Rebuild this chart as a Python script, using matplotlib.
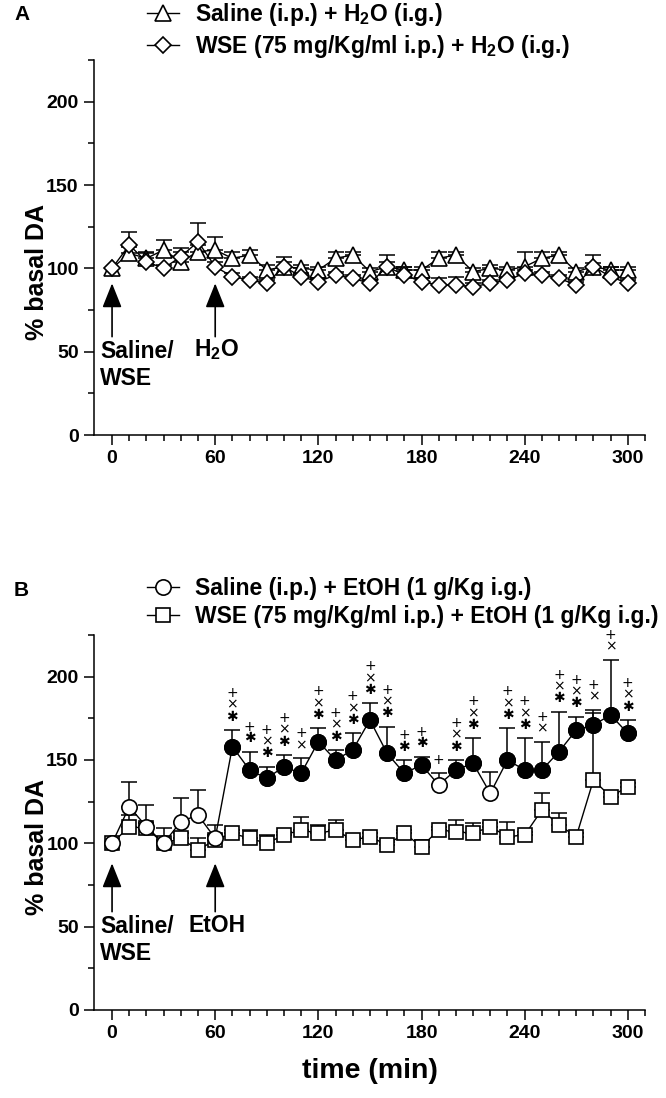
import matplotlib
matplotlib.use("Agg")
import matplotlib.pyplot as plt
from matplotlib.lines import Line2D
from matplotlib.ticker import MultipleLocator, FixedLocator

plt.rcParams['font.family'] = ['Liberation Sans', 'DejaVu Sans']
plt.rcParams['font.weight'] = 'bold'
plt.rcParams['mathtext.fontset'] = 'custom'
plt.rcParams['mathtext.rm'] = 'Liberation Sans:bold'
plt.rcParams['mathtext.default'] = 'rm'

# sampling times (min)
time_min = [0, 10, 20, 30, 40, 50, 60, 70, 80, 90, 100, 110, 120, 130, 140, 150,
            160, 170, 180, 190, 200, 210, 220, 230, 240, 250, 260, 270, 280, 290, 300]

# panel A: % basal DA, mean and SEM
saline_h2o = [100, 109, 106, 111, 104, 110, 111, 106, 108, 99, 101, 100, 99, 106, 108, 98,
              101, 99, 99, 106, 108, 98, 100, 99, 101, 106, 108, 98, 101, 99, 99]
saline_h2o_sem = [0, 4, 4, 6, 8, 4, 8, 4, 3, 3, 3, 2, 2, 4, 2, 2,
                  3, 2, 2, 4, 2, 2, 2, 2, 9, 4, 2, 2, 2, 2, 2]
wse_h2o = [100, 114, 104, 100, 107, 116, 101, 95, 93, 91, 101, 95, 92, 96, 94, 91,
           101, 96, 92, 90, 90, 89, 91, 93, 97, 96, 94, 90, 101, 95, 91]
wse_h2o_sem = [0, 8, 5, 2, 3, 11, 3, 2, 2, 2, 6, 2, 2, 2, 2, 2,
               7, 5, 2, 4, 5, 2, 2, 2, 2, 2, 2, 2, 7, 6, 2]

# panel B
saline_etoh = [100, 122, 110, 100, 113, 117, 103, 158, 144, 139, 146, 142, 161, 150, 156, 174,
               154, 142, 147, 135, 144, 148, 130, 150, 144, 144, 155, 168, 171, 177, 166]
saline_etoh_sem = [0, 15, 13, 9, 14, 15, 8, 10, 11, 7, 7, 9, 8, 6, 10, 10,
                   16, 8, 5, 7, 6, 15, 13, 19, 19, 17, 24, 8, 9, 33, 8]
saline_etoh_signif = [False, False, False, False, False, False, False, True, True, True, True,
                      True, True, True, True, True, True, True, True, False, True, True, False,
                      True, True, True, True, True, True, True, True]
saline_etoh_marks = ['', '', '', '', '', '', '', '+×✱', '+✱', '+×✱', '+×✱', '+×', '+×✱', '+×✱',
                     '+×✱', '+×✱', '+×✱', '+✱', '+✱', '+', '+×✱', '+×✱', '', '+×✱', '+×✱',
                     '+×', '+×✱', '+×✱', '+×', '+×', '+×✱']
wse_etoh = [100, 110, 109, 100, 103, 96, 102, 106, 103, 100, 105, 108, 106, 108, 102, 104,
            99, 106, 98, 108, 107, 106, 110, 104, 105, 120, 111, 104, 138, 128, 134]
wse_etoh_sem = [0, 7, 3, 2, 3, 7, 3, 2, 5, 5, 2, 8, 5, 6, 2, 2,
                2, 2, 4, 2, 7, 6, 2, 9, 2, 10, 7, 2, 40, 2, 2]

W, H = 666, 1098
fig = plt.figure(figsize=(W / 100, H / 100), dpi=100)


def px_axes(left, top, right, bottom):
    return fig.add_axes([left / W, 1 - bottom / H, (right - left) / W, (bottom - top) / H])


def style_axis(ax):
    ax.set_xlim(-10.5, 310)
    ax.set_ylim(0, 225)
    for s in ['top', 'right']:
        ax.spines[s].set_visible(False)
    for s in ['left', 'bottom']:
        ax.spines[s].set_linewidth(1.1)
    ax.xaxis.set_major_locator(FixedLocator([0, 60, 120, 180, 240, 300]))
    ax.xaxis.set_minor_locator(FixedLocator(list(range(0, 311, 10))))
    ax.yaxis.set_major_locator(MultipleLocator(50))
    ax.yaxis.set_minor_locator(MultipleLocator(25))
    ax.tick_params(which='major', length=7, width=1.1, labelsize=14, pad=4)
    ax.tick_params(which='minor', length=4, width=1.1)


def draw_series(ax, y, sem, marker, ms, z, filled=None):
    ax.errorbar(time_min, y, yerr=[[0] * len(sem), sem], fmt='none', ecolor='k',
                elinewidth=1.1, capsize=6, capthick=1.1, zorder=z)
    ax.plot(time_min, y, color='k', lw=1.0, zorder=z + 0.1)
    ax.plot(time_min, y, ls='none', marker=marker, ms=ms, mfc='white', mec='k',
            mew=1.2, zorder=z + 0.2)
    if filled is not None:
        tf = [t for t, f in zip(time_min, filled) if f]
        yf = [v for v, f in zip(y, filled) if f]
        ax.plot(tf, yf, ls='none', marker=marker, ms=ms, mfc='k', mec='k',
                mew=1.2, zorder=z + 0.3)


def arrow(ax, x, y_tip, y_tail):
    ax.annotate('', xy=(x, y_tip), xytext=(x, y_tail),
                arrowprops=dict(arrowstyle='-|>,head_length=0.75,head_width=0.3',
                                mutation_scale=20, color='k', lw=1.2,
                                shrinkA=0, shrinkB=0))


# ---- panel A ----
axA = px_axes(94, 60, 645, 435)
style_axis(axA)
draw_series(axA, saline_h2o, saline_h2o_sem, '^', 11, 2)
draw_series(axA, wse_h2o, wse_h2o_sem, 'D', 8.5, 3)

arrow(axA, 0, 91, 59)
arrow(axA, 60, 91, 59)
axA.text(-7, 50, 'Saline/', fontsize=16.5, ha='left', va='center')
axA.text(-7, 34, 'WSE', fontsize=16.5, ha='left', va='center')
axA.text(61, 51, 'H$_2$O', fontsize=16.5, ha='center', va='center')

hA = [Line2D([], [], color='k', lw=1, marker='^', ms=11, mfc='white', mec='k', mew=1.2),
      Line2D([], [], color='k', lw=1, marker='D', ms=8.5, mfc='white', mec='k', mew=1.2)]
axA.legend(hA, ['Saline (i.p.) + H$_2$O (i.g.)', 'WSE (75 mg/Kg/ml i.p.) + H$_2$O (i.g.)'],
           loc='upper left', bbox_to_anchor=(147 / W, 1 - 1 / H), bbox_transform=fig.transFigure,
           frameon=False, fontsize=16.5, handlelength=1.4, handletextpad=0.7,
           labelspacing=0.2, borderpad=0, borderaxespad=0)

# ---- panel B ----
axB = px_axes(94, 635, 645, 1010)
style_axis(axB)
draw_series(axB, wse_etoh, wse_etoh_sem, 's', 10, 2)
draw_series(axB, saline_etoh, saline_etoh_sem, 'o', 11, 3, filled=saline_etoh_signif)

# significance marks stacked above the error caps
for t, v, e, marks in zip(time_min, saline_etoh, saline_etoh_sem, saline_etoh_marks):
    for k, ch in enumerate(reversed(marks)):
        axB.annotate(ch, xy=(t, v + e), xytext=(0, 9.5 + 8.6 * k), textcoords='offset points',
                     ha='center', va='center', fontsize=10, fontweight='normal',
                     family=['DejaVu Sans'])

arrow(axB, 0, 88, 59)
arrow(axB, 60, 88, 59)
axB.text(-7, 50, 'Saline/', fontsize=16.5, ha='left', va='center')
axB.text(-7, 34, 'WSE', fontsize=16.5, ha='left', va='center')
axB.text(61, 51, 'EtOH', fontsize=16.5, ha='center', va='center')

hB = [Line2D([], [], color='k', lw=1, marker='o', ms=11, mfc='white', mec='k', mew=1.2),
      Line2D([], [], color='k', lw=1, marker='s', ms=10, mfc='white', mec='k', mew=1.2)]
axB.legend(hB, ['Saline (i.p.) + EtOH (1 g/Kg i.g.)', 'WSE (75 mg/Kg/ml i.p.) + EtOH (1 g/Kg i.g.)'],
           loc='upper left', bbox_to_anchor=(147 / W, 1 - 577 / H), bbox_transform=fig.transFigure,
           frameon=False, fontsize=16.5, handlelength=1.4, handletextpad=0.7,
           labelspacing=0.2, borderpad=0, borderaxespad=0)

# labels
fig.text(14 / W, 1 - 15 / H, 'A', fontsize=15, ha='left', va='center')
fig.text(14 / W, 1 - 590 / H, 'B', fontsize=15, ha='left', va='center')
fig.text(37 / W, 1 - 272 / H, '% basal DA', fontsize=18, rotation=90, ha='center', va='center')
fig.text(37 / W, 1 - 847 / H, '% basal DA', fontsize=18, rotation=90, ha='center', va='center')
fig.text(370 / W, 1 - 1071 / H, 'time (min)', fontsize=20.5, ha='center', va='center')

fig.savefig('out.png', dpi=100)
